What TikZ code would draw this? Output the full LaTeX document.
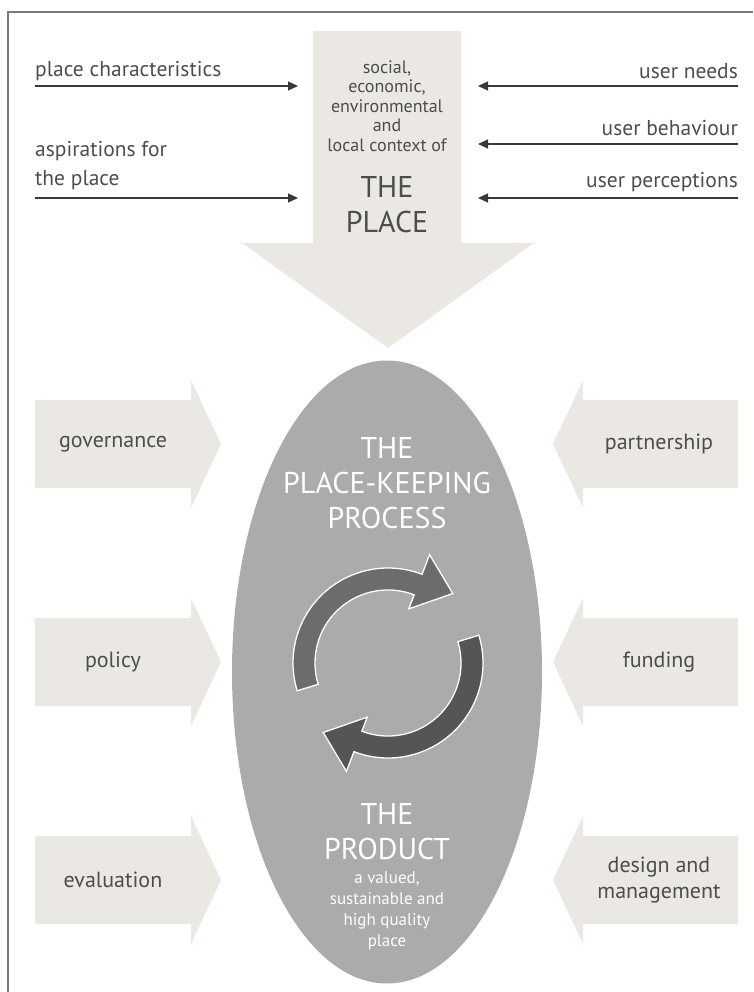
\documentclass[tikz,border=0pt]{standalone}
\usepackage{fontspec}
\setmainfont{PT Sans}
\usetikzlibrary{arrows.meta,shapes.geometric}
\definecolor{PlaceBeige}{HTML}{EBE8E4}
\definecolor{PlaceOval}{HTML}{ABABAB}
\definecolor{PlaceText}{HTML}{4D4D4D}
\definecolor{PlaceLine}{HTML}{383838}
\definecolor{PlaceFrame}{HTML}{7A7A7A}
\definecolor{CycleLight}{HTML}{6C6C6C}
\definecolor{CycleDark}{HTML}{555555}

\begin{document}
\begin{tikzpicture}[
    x=1pt, y=-1pt,
    sidetext/.style={
        text=PlaceText,
        inner sep=0pt,
        font=\fontsize{21.5}{29}\selectfont
    },
    boxtext/.style={
        text=PlaceText,
        inner sep=0pt,
        align=center,
        font=\fontsize{22}{26}\selectfont
    },
    shafttext/.style={
        text=PlaceText,
        inner sep=0pt,
        align=center,
        font=\fontsize{18}{19.5}\selectfont
    },
    bigcaps/.style={
        inner sep=0pt,
        align=center,
        font=\fontsize{30}{35}\selectfont
    },
    feed/.style={
        -{Triangle[length=10pt,width=9pt]},
        line width=1.2pt,
        draw=PlaceLine
    },
    cycle/.style={
        draw=white,
        line width=1.3pt
    }
]
\useasboundingbox (0,0) rectangle (753,992);

% frame
\draw[PlaceFrame, line width=1.5pt] (8,992) -- (8,12) -- (753,12);

% big arrow into the oval
\fill[PlaceBeige] (313,31) -- (461,31) -- (461,243) -- (534,243)
    -- (388,348) -- (242,243) -- (313,243) -- cycle;

\node[shafttext] (context) at (387,106)
{social,\\economic,\\environmental\\and\\local context of};
\node[bigcaps, text=PlaceText] (place) at (387,205) {THE\\PLACE};

% inputs at the top
\node[sidetext, anchor=west] (charac) at (35,71) {place characteristics};
\node[sidetext, anchor=west, align=left] (aspire) at (35,166) {aspirations for\\the place};
\node[sidetext, anchor=east] (needs) at (738,71) {user needs};
\node[sidetext, anchor=east] (behave) at (738,128) {user behaviour};
\node[sidetext, anchor=east] (percep) at (738,182) {user perceptions};

\coordinate (charac-in) at (35,86);
\coordinate (charac-out) at (298,86);
\coordinate (aspire-in) at (35,198);
\coordinate (aspire-out) at (298,198);
\coordinate (needs-in) at (738,86);
\coordinate (needs-out) at (478,86);
\coordinate (behave-in) at (738,144);
\coordinate (behave-out) at (478,144);
\coordinate (percep-in) at (738,198);
\coordinate (percep-out) at (478,198);

\draw[feed] (charac-in) -- (charac-out);
\draw[feed] (aspire-in) -- (aspire-out);
\draw[feed] (needs-in) -- (needs-out);
\draw[feed] (behave-in) -- (behave-out);
\draw[feed] (percep-in) -- (percep-out);

% side arrows
\foreach \y/\lname/\rname in {444/governance/partnership,
                              662/policy/funding,
                              880/evaluation/{design and\\management}}{
    \fill[PlaceBeige] (35,\y-44) -- (191,\y-44) -- (191,\y-64) -- (221,\y)
        -- (191,\y+64) -- (191,\y+44) -- (35,\y+44) -- cycle;
    \fill[PlaceBeige] (738,\y-44) -- (583,\y-44) -- (583,\y-64) -- (553,\y)
        -- (583,\y+64) -- (583,\y+44) -- (738,\y+44) -- cycle;
    \node[boxtext] (left-\y) at (113,\y) {\lname};
    \node[boxtext] (right-\y) at (659,\y) {\rname};
}

% the oval
\node[ellipse, fill=PlaceOval, inner sep=0pt,
      minimum width=310pt, minimum height=623pt] (process) at (387,672) {};

\node[bigcaps, text=white] (keeping) at (387,483) {THE\\PLACE-KEEPING\\PROCESS};
\node[bigcaps, text=white] (product) at (387,832) {THE\\PRODUCT};
\node[shafttext, text=white, font=\fontsize{17}{21}\selectfont] (quality)
    at (387,911) {a valued,\\sustainable and\\high quality\\place};

% the cycle
\begin{scope}[shift={(388,663)}]
\foreach \ang/\col in {0/CycleLight, 180/CycleDark}{
    \filldraw[cycle, fill=\col, rotate=\ang]
        (-197:95) arc[start angle=-197, end angle=-69, radius=95]
        -- (-69:116) -- (-47:95) -- (-69:58) -- (-69:73)
        arc[start angle=-69, end angle=-197, radius=73] -- cycle;
}
\end{scope}

\end{tikzpicture}
\end{document}
